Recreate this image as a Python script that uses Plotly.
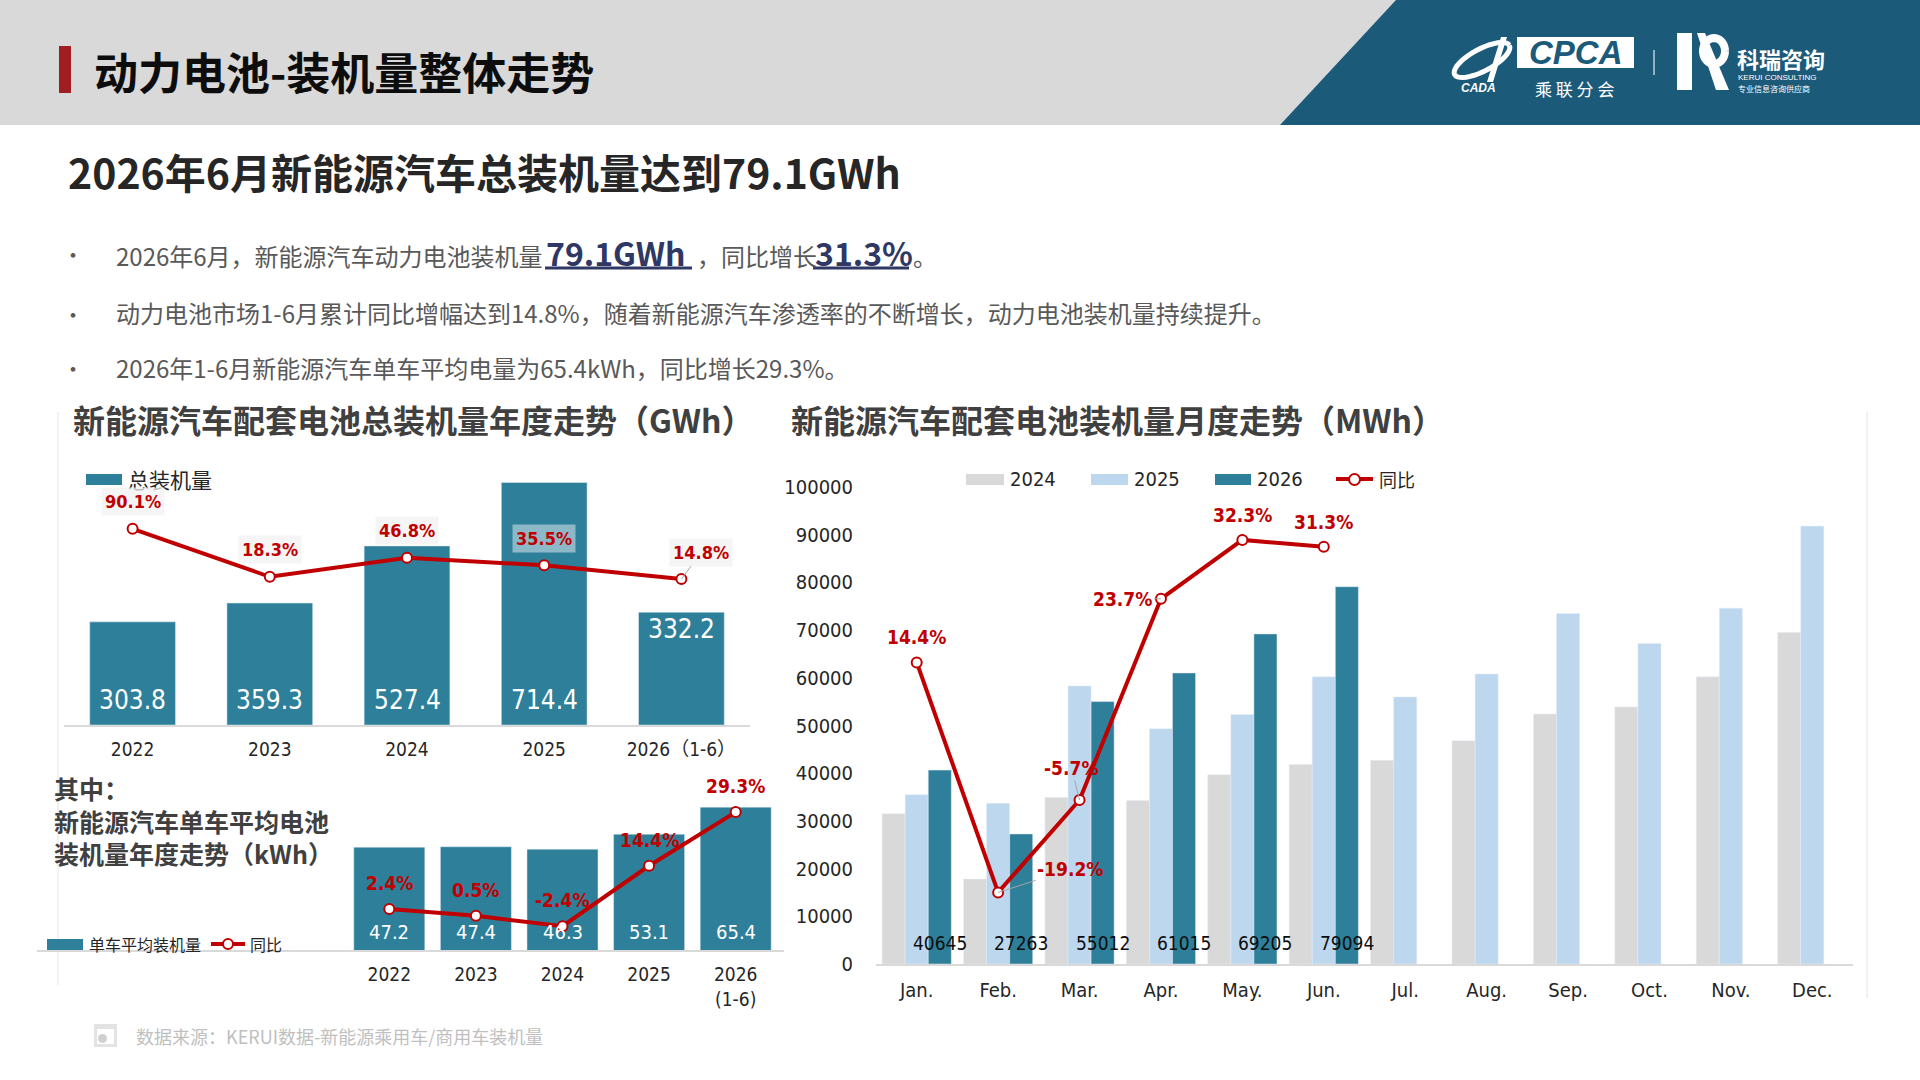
import plotly.graph_objects as go
import math

W, H = 1920, 1080

# ---------------- DATA ----------------
years = ["2022", "2023", "2024", "2025", "2026（1-6）"]
total_gwh = [303.8, 359.3, 527.4, 714.4, 332.2]
total_yoy = [90.1, 18.3, 46.8, 35.5, 14.8]

avg_years = ["2022", "2023", "2024", "2025", "2026<br>(1-6)"]
avg_kwh = [47.2, 47.4, 46.3, 53.1, 65.4]
avg_yoy = [2.4, 0.5, -2.4, 14.4, 29.3]

months = ["Jan.", "Feb.", "Mar.", "Apr.", "May.", "Jun.",
          "Jul.", "Aug.", "Sep.", "Oct.", "Nov.", "Dec."]
m2024 = [31500, 17800, 34900, 34300, 39700, 41800, 42700, 46800, 52400, 53900, 60200, 69500]
m2025 = [35500, 33700, 58300, 49300, 52300, 60200, 56000, 60800, 73500, 67200, 74600, 91800]
m2026 = [40645, 27263, 55012, 61015, 69205, 79094]
m_yoy = [14.4, -19.2, -5.7, 23.7, 32.3, 31.3]

# ---------------- STYLE ----------------
CJK = "Noto Sans CJK SC, Microsoft YaHei, sans-serif"
NUM = "Liberation Sans Narrow, DejaVu Sans Condensed, Noto Sans CJK SC, sans-serif"
TEAL = "#2e7f9a"
RED = "#c00000"
GRAY_BAR = "#d9d9d9"
LBLUE = "#bdd7ee"
HEAD_BLUE = "#1c5a7a"
NAVY = "#2f3864"
TXT = "#595959"
DARK = "#262626"


def px(x):
    return x / W


def py(y):
    return 1 - y / H


fig = go.Figure()

line_style = dict(color=RED, width=4)
marker_style = dict(size=10, color="white", line=dict(color=RED, width=2))

# Chart A: annual total
fig.add_trace(go.Bar(x=years, y=total_gwh, width=0.625, marker_color=TEAL,
                     xaxis="x", yaxis="y", showlegend=False, hoverinfo="skip"))
fig.add_trace(go.Scatter(x=years, y=total_yoy, mode="lines+markers", line=line_style,
                         marker=marker_style, xaxis="x", yaxis="y2", showlegend=False,
                         hoverinfo="skip"))
# Chart B: average kWh
fig.add_trace(go.Bar(x=avg_years, y=avg_kwh, width=0.82, marker_color=TEAL,
                     xaxis="x2", yaxis="y3", showlegend=False, hoverinfo="skip"))
fig.add_trace(go.Scatter(x=avg_years, y=avg_yoy, mode="lines+markers", line=line_style,
                         marker=marker_style, xaxis="x2", yaxis="y4", showlegend=False,
                         hoverinfo="skip"))
# Chart C: monthly
fig.add_trace(go.Bar(x=months, y=m2024, marker_color=GRAY_BAR, name="2024",
                     xaxis="x3", yaxis="y5", showlegend=False, hoverinfo="skip"))
fig.add_trace(go.Bar(x=months, y=m2025, marker_color=LBLUE, name="2025",
                     xaxis="x3", yaxis="y5", showlegend=False, hoverinfo="skip"))
fig.add_trace(go.Bar(x=months[:6], y=m2026, marker_color=TEAL, name="2026",
                     xaxis="x3", yaxis="y5", showlegend=False, hoverinfo="skip"))
fig.add_trace(go.Scatter(x=months[:6], y=m_yoy, mode="lines+markers", line=line_style,
                         marker=marker_style, xaxis="x3", yaxis="y6", showlegend=False,
                         hoverinfo="skip"))

ann = []
shapes = []


def text(t, x, y, size, color=DARK, family=CJK, xanchor="left", yanchor="middle", **kw):
    ann.append(dict(text=t, x=px(x), y=py(y), xref="paper", yref="paper", showarrow=False,
                    xanchor=xanchor, yanchor=yanchor,
                    font=dict(size=size, color=color, family=family), **kw))


def rect(x0, y0, x1, y1, color, line=None, layer="above"):
    shapes.append(dict(type="rect", xref="paper", yref="paper", x0=px(x0), x1=px(x1),
                       y0=py(y1), y1=py(y0), fillcolor=color,
                       line=line or dict(width=0), layer=layer))


def hline(x0, x1, y, color, width=1):
    shapes.append(dict(type="line", xref="paper", yref="paper", x0=px(x0), x1=px(x1),
                       y0=py(y), y1=py(y), line=dict(color=color, width=width)))


def vline(x, y0, y1, color, width=1):
    shapes.append(dict(type="line", xref="paper", yref="paper", x0=px(x), x1=px(x),
                       y0=py(y0), y1=py(y1), line=dict(color=color, width=width)))


def path(pts, fill, line_color=None, width=0, closed=True):
    d = "M " + " L ".join(f"{px(a):.5f},{py(b):.5f}" for a, b in pts)
    if closed:
        d += " Z"
    shapes.append(dict(type="path", xref="paper", yref="paper", path=d,
                       fillcolor=fill, line=dict(color=line_color or fill, width=width)))


# ---------------- HEADER ----------------
rect(0, 0, 1920, 125, "#d9d9d9", layer="below")
path([(1396, 0), (1920, 0), (1920, 125), (1280, 125)], HEAD_BLUE)
rect(59, 46, 71, 93, "#a01d22")
text("<b>动力电池-装机量整体走势</b>", 92, 71, 44, "#0d0d0d")

# CPCA logo
ell = []
for i in range(41):
    t = 2 * math.pi * i / 40
    ex, ey = 31 * math.cos(t), 11 * math.sin(t)
    a = math.radians(-28)
    ell.append((1482 + ex * math.cos(a) - ey * math.sin(a), 60 + ex * math.sin(a) + ey * math.cos(a)))
path(ell, "rgba(0,0,0,0)", "white", 5, closed=False)
path([(1487, 82), (1493, 82), (1507, 37), (1501, 37)], "white")
rect(1517, 37, 1634, 68, "white")
text("<b><i>CPCA</i></b>", 1576, 53, 33, HEAD_BLUE, "Liberation Sans, Arial, sans-serif", xanchor="center")
hline(1517, 1634, 47, "white", 1.5)
hline(1517, 1634, 59, "white", 1.5)
text("乘 联 分 会", 1574, 88, 17, "white", xanchor="center")
text("<b><i>CADA</i></b>", 1478, 88, 12, "white", "Liberation Sans, Arial, sans-serif", xanchor="center")
vline(1654, 50, 75, "rgba(255,255,255,0.7)", 1.5)
# KR logo
rect(1677, 33, 1692, 90, "white")
ring = []
for i in range(41):
    t = 2 * math.pi * i / 40
    ring.append((1714 + 11 * math.cos(t), 51 + 13 * math.sin(t)))
path(ring, "rgba(0,0,0,0)", "white", 8, closed=False)
path([(1697, 33), (1705, 33), (1729, 90), (1716, 90)], "white")
text("<b>科瑞咨询</b>", 1735, 58, 22, "white")
text("KERUI CONSULTING", 1736, 78, 8, "white", "Liberation Sans, Arial, sans-serif")
text("专业信息咨询供应商", 1736, 88, 8, "white")

# ---------------- SUBTITLE & BULLETS ----------------
text("<b>2026年6月新能源汽车总装机量达到79.1GWh</b>", 66, 171, 41, DARK)

for yy in (253, 313, 367):
    text("•", 73, yy, 22, TXT, xanchor="center")
text("2026年6月，新能源汽车动力电池装机量", 114, 255, 24, TXT)
text("<b>79.1GWh</b>", 545, 252, 32, NAVY, borderpad=0)
text("，同比增长", 696, 255, 24, TXT, borderpad=0)
text("<b>31.3%</b>", 814, 252, 32, NAVY, borderpad=0)
text("。", 912, 255, 24, TXT, borderpad=0)
hline(545, 692, 268, NAVY, 3)
hline(813, 909, 268, NAVY, 3)
text("动力电池市场1-6月累计同比增幅达到14.8%，随着新能源汽车渗透率的不断增长，动力电池装机量持续提升。",
     114, 313, 24, TXT)
text("2026年1-6月新能源汽车单车平均电量为65.4kWh，同比增长29.3%。", 114, 367, 24, TXT)

# ---------------- PANEL FRAME LINES ----------------
vline(58, 412, 985, "#e4e4e4", 1)
vline(1867, 412, 998, "#e4e4e4", 1)

# ---------------- CHART A ----------------
text("<b>新能源汽车配套电池总装机量年度走势（GWh）</b>", 71, 419, 32, "#404040")
rect(86, 474, 122, 485, TEAL)
text("总装机量", 126, 479, 21, DARK)

for i, v in enumerate(total_gwh):
    if i < 4:
        ann.append(dict(text=f"{v}", x=i, y=0, xref="x", yref="y", showarrow=False,
                        yshift=25, font=dict(size=26, color="white", family=NUM)))
    else:
        ann.append(dict(text=f"{v}", x=i, y=v, xref="x", yref="y", showarrow=False,
                        yshift=-17, font=dict(size=26, color="white", family=NUM)))
for i, v in enumerate(total_yoy):
    bg = "rgba(255,255,255,0.45)" if i == 3 else "rgba(242,242,242,0.75)"
    if i == 4:
        ann.append(dict(text=f"<b>{v}%</b>", x=i, y=v, xref="x", yref="y2", showarrow=True,
                        arrowhead=0, arrowwidth=1, arrowcolor="#a6a6a6", ax=20, ay=-27,
                        bgcolor=bg, borderpad=3,
                        font=dict(size=18, color=RED, family=NUM)))
    else:
        ann.append(dict(text=f"<b>{v}%</b>", x=i, y=v, xref="x", yref="y2", showarrow=False,
                        yshift=27, bgcolor=bg, borderpad=3,
                        font=dict(size=18, color=RED, family=NUM)))

# ---------------- CHART B ----------------
text("<b>其中：<br>新能源汽车单车平均电池<br>装机量年度走势（kWh）</b>", 52, 768, 25, "#404040",
     yanchor="top", align="left")
hline(37, 784, 951, "#d9d9d9", 2)
rect(47, 939, 83, 950, TEAL)
text("单车平均装机量", 87, 944, 16, DARK)
hline(211, 245, 944, RED, 4)
shapes.append(dict(type="circle", xref="paper", yref="paper", x0=px(223), x1=px(233),
                   y0=py(949), y1=py(939), fillcolor="white", line=dict(color=RED, width=2)))
text("同比", 248, 944, 16, DARK)

for i, v in enumerate(avg_kwh):
    ann.append(dict(text=f"{v}", x=i, y=0, xref="x2", yref="y3", showarrow=False,
                    yshift=19, font=dict(size=20, color="white", family=NUM)))
for i, v in enumerate(avg_yoy):
    ann.append(dict(text=f"<b>{v}%</b>", x=i, y=v, xref="x2", yref="y4", showarrow=False,
                    yshift=26, font=dict(size=19, color=RED, family=NUM)))

# ---------------- CHART C ----------------
text("<b>新能源汽车配套电池装机量月度走势（MWh）</b>", 789, 419, 32, "#404040")
leg = [(966, 1004, GRAY_BAR, "2024"), (1091, 1128, LBLUE, "2025"), (1215, 1251, TEAL, "2026")]
for x0, x1, col, lab in leg:
    rect(x0, 474, x1, 485, col)
    text(lab, x1 + 4, 479, 20, DARK, NUM)
hline(1336, 1373, 479, RED, 4)
shapes.append(dict(type="circle", xref="paper", yref="paper", x0=px(1349), x1=px(1360),
                   y0=py(485), y1=py(474), fillcolor="white", line=dict(color=RED, width=2)))
text("同比", 1377, 479, 18, DARK)

for i, v in enumerate(m2026):
    ann.append(dict(text=f"{v}", x=i, y=0, xref="x3", yref="y5", showarrow=False,
                    yshift=21, xshift=23, font=dict(size=19, color="#0d0d0d", family=NUM)))
offsets = {0: (0, -25, False), 1: (72, -23, True), 2: (-8, -32, True), 3: (-38, 0, True),
           4: (0, -25, False), 5: (0, -25, False)}
for i, v in enumerate(m_yoy):
    ox, oy, arrow = offsets[i]
    if arrow:
        ann.append(dict(text=f"<b>{v}%</b>", x=i, y=v, xref="x3", yref="y6", showarrow=True,
                        arrowhead=0, arrowwidth=1, arrowcolor="#a6a6a6", ax=ox, ay=oy,
                        font=dict(size=19, color=RED, family=NUM)))
    else:
        ann.append(dict(text=f"<b>{v}%</b>", x=i, y=v, xref="x3", yref="y6", showarrow=False,
                        yshift=-oy, font=dict(size=19, color=RED, family=NUM)))

# ---------------- SOURCE ----------------
rect(94, 1024, 117, 1047, "#e3e3e3")
rect(97, 1029, 114, 1044, "white")
shapes.append(dict(type="circle", xref="paper", yref="paper", x0=px(98), x1=px(107),
                   y0=py(1043), y1=py(1034), fillcolor="#d0d0d0", line=dict(width=0)))
text("数据来源：KERUI数据-新能源乘用车/商用车装机量", 134, 1036, 18, "#bfbfbf")

# ---------------- AXES ----------------
hidden = dict(visible=False, showgrid=False, zeroline=False, fixedrange=True, automargin=False)
cat_axis = dict(type="category", showgrid=False, zeroline=False, ticks="", fixedrange=True,
                automargin=False)

fig.update_layout(
    width=W, height=H,
    margin=dict(l=0, r=0, t=0, b=0, pad=0, autoexpand=False),
    paper_bgcolor="white", plot_bgcolor="rgba(0,0,0,0)",
    barmode="group", bargap=0.15, bargroupgap=0,
    showlegend=False,
    xaxis=dict(domain=[px(64), px(750)], anchor="y", range=[-0.5, 4.5],
               showline=True, linecolor="#d9d9d9", linewidth=2,
               tickfont=dict(size=19, color=DARK, family=NUM), ticklabelstandoff=6, **cat_axis),
    yaxis=dict(domain=[py(725), py(455)], range=[0, 795.3], anchor="x", **hidden),
    yaxis2=dict(overlaying="y", range=[-203.6, 200.6], anchor="x", **hidden),
    xaxis2=dict(domain=[px(346), px(779)], anchor="y3", range=[-0.5, 4.5],
                showline=False,
                tickfont=dict(size=19, color=DARK, family=NUM), ticklabelstandoff=10, **cat_axis),
    yaxis3=dict(domain=[py(951), py(790)], range=[0, 73.2], anchor="x2", **hidden),
    yaxis4=dict(overlaying="y3", range=[-9.28, 35.44], anchor="x2", **hidden),
    xaxis3=dict(domain=[px(876), px(1853)], anchor="y5", range=[-0.5, 11.5],
                showline=True, linecolor="#d9d9d9", linewidth=2,
                tickfont=dict(size=20, color=DARK, family=NUM), ticklabelstandoff=7, **cat_axis),
    yaxis5=dict(domain=[py(964), py(487)], range=[0, 100000], anchor="x3", dtick=10000,
                tickformat="d", showgrid=False, zeroline=False, showline=False, ticks="",
                ticklabelstandoff=22, fixedrange=True, automargin=False,
                tickfont=dict(size=20, color=DARK, family=NUM)),
    yaxis6=dict(overlaying="y5", range=[-29.66, 40.03], anchor="x3", **hidden),
    annotations=ann,
    shapes=shapes,
)

fig.write_html(
    "out.html",
    config={"displayModeBar": False},
    post_script=(
        "document.documentElement.style.margin='0';"
        "document.body.style.margin='0';document.body.style.padding='0';"
        "document.body.style.overflow='hidden';"
        "var gd=document.getElementById('{plot_id}');"
        "gd.style.position='absolute';gd.style.top='0px';gd.style.left='0px';"
    ),
)
